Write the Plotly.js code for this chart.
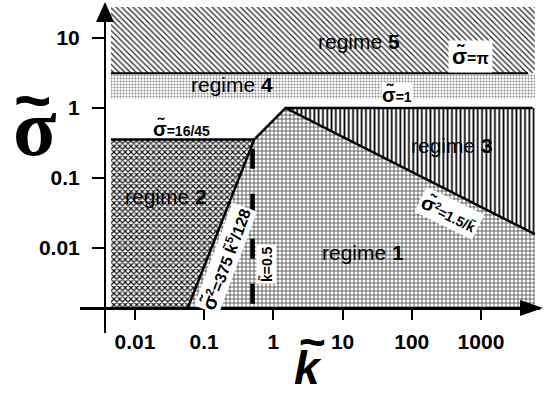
<!DOCTYPE html>
<html><head><meta charset="utf-8">
<script src="https://cdn.plot.ly/plotly-3.0.1.min.js"></script>
<style>html,body{margin:0;padding:0;background:#fff;}#chart{width:547px;height:394px;}</style>
</head><body><div id="chart"></div>
<script>
// ---- data ----
const kFill = [0.0045, 6000];            // horizontal extent of the shaded map
const sigmaFill = [0.0014, 27.7];        // vertical extent of the shaded map
const boundaryK = [0.058, 0.53, 1.5, 6000];      // regime 1 upper boundary (vertices)
const boundarySigma = [0.0014, 0.356, 1, 0.0158];
const sigmaPi = 3.1416;
const sigmaOne = 1;
const sigma1645 = 0.356;
const regime4Low = 1.35;
const kHalf = 0.5;
const kHalfSigma = [0.0016, 0.356];
const piLineEnd = 4800;
const oneLineEnd = 5600;
const xTickVals = [0.01, 0.1, 1, 10, 100, 1000];
const xTickText = ['0.01', '0.1', '1', '10', '100', '1000'];
const yTickVals = [0.01, 0.1, 1, 10];
const yTickText = ['0.01', '0.1', '1', '10'];

const kMin = kFill[0], kMax = kFill[1], sMin = sigmaFill[0], sMax = sigmaFill[1];

function region(xs, ys, shape, size, solidity, fg) {
  return {x: xs, y: ys, mode: 'lines', fill: 'toself', line: {width: 0, color: 'rgba(0,0,0,0)'},
    fillcolor: 'rgba(0,0,0,0)',
    fillpattern: {shape: shape, size: size, solidity: solidity, fgcolor: fg, bgcolor: 'white'},
    hoverinfo: 'skip', showlegend: false};
}
function line(xs, ys, w, dash) {
  return {x: xs, y: ys, mode: 'lines', line: {color: 'black', width: w, dash: dash || 'solid'},
    hoverinfo: 'skip', showlegend: false};
}

const traces = [
  region([kMin, kMax, kMax, kMin], [sigmaPi, sigmaPi, sMax, sMax], '\\', 4, 0.3, '#222'),           // regime 5
  region([kMin, kMax, kMax, kMin], [regime4Low, regime4Low, sigmaPi, sigmaPi], '.', 3, 0.35, '#888'), // regime 4
  region([boundaryK[2], kMax, kMax], [sigmaOne, sigmaOne, boundarySigma[3]], '|', 4.3, 0.4, '#000'), // regime 3
  region([kMin, kMin, boundaryK[1], boundaryK[0]], [sMin, sigma1645, sigma1645, boundarySigma[0]], 'x', 4, 0.5, '#111'), // regime 2
  region(boundaryK.concat([kMax]), boundarySigma.concat([sMin]), '+', 4, 0.28, '#111'),             // regime 1
  line([kMin, piLineEnd], [sigmaPi, sigmaPi], 2),
  line([boundaryK[2], oneLineEnd], [sigmaOne, sigmaOne], 2.5),
  line([kMin, boundaryK[1]], [sigma1645, sigma1645], 2.5),
  line(boundaryK, boundarySigma, 2.5),
  line([kHalf, kHalf], kHalfSigma, 4.5, '20px,25px')
];

const FONT = 'Liberation Sans, Arial, sans-serif';
function ann(x, y, text, size, extra) {
  return Object.assign({x: x, y: y, xref: 'x', yref: 'y', text: text, showarrow: false,
    xanchor: 'center', yanchor: 'middle',
    font: {family: FONT, size: size, color: 'black'}}, extra || {});
}
function pann(x, y, text, size, family, extra) {
  return Object.assign({x: x, y: y, xref: 'paper', yref: 'paper', text: text, showarrow: false,
    xanchor: 'center', yanchor: 'middle',
    font: {family: family, size: size, color: 'black'}}, extra || {});
}
const annotations = [
  ann(1.237, 0.943, 'regime <b>5</b>', 21),
  ann(-0.598, 0.329, 'regime <b>4</b>', 21),
  ann(2.581, -0.529, 'regime <b>3</b>', 21),
  ann(-1.552, -1.271, 'regime <b>2</b>', 21),
  ann(1.295, -2.057, 'regime <b>1</b>', 21),
  ann(2.855, 0.729, '<b><span style="font-size:22px">σ̃</span>=π</b>', 16, {bgcolor: 'white', borderpad: 3}),
  ann(1.786, 0.186, '<b><span style="font-size:20px">σ̃</span>=1</b>', 14, {bgcolor: 'white', borderpad: 0}),
  ann(-1.335, -0.286, '<b><span style="font-size:20px">σ̃</span>=16/45</b>', 14),
  ann(-0.69, -2.15, '<b><span style="font-size:20px">σ̃</span><sup>2</sup>=375 k̃<sup>5</sup>/128</b>', 16,
      {textangle: -69.5, bgcolor: 'white', borderpad: 1}),
  ann(-0.107, -2.229, '<b>k̃=0.5</b>', 14, {textangle: -90, bgcolor: 'white', borderpad: 1}),
  ann(2.552, -1.5, '<b><span style="font-size:20px">σ̃</span><sup>2</sup>=1.5/k̃</b>', 14,
      {textangle: 26, bgcolor: 'white', borderpad: 2}),
  // axis titles (glyph + tilde drawn as separate texts)
  pann(-0.0978, 0.625, '<b>σ</b>', 80, 'Liberation Serif, Times New Roman, serif'),
  pann(-0.1022, 0.710, '<b>~</b>', 64, FONT),
  pann(0.4957, -0.1067, '<b><i>k</i></b>', 46, FONT),
  pann(0.5065, -0.0274, '<b>~</b>', 46, FONT)
];

const shapes = [
  {type: 'path', xref: 'paper', yref: 'paper', line: {width: 0}, fillcolor: 'black',
   path: 'M ' + (96-80)/460 + ' ' + (333-22)/328 + ' L ' + (105-80)/460 + ' ' + (333-2)/328 + ' L ' + (114-80)/460 + ' ' + (333-22)/328 + ' Z'},
  {type: 'path', xref: 'paper', yref: 'paper', line: {width: 0}, fillcolor: 'black',
   path: 'M ' + (520-80)/460 + ' ' + (333-300)/328 + ' L ' + (543-80)/460 + ' ' + (333-308)/328 + ' L ' + (520-80)/460 + ' ' + (333-316)/328 + ' Z'}
];

const axisCommon = {type: 'log', showgrid: false, zeroline: false, showline: true, linecolor: 'black',
  linewidth: 2.5, ticks: 'outside', tickcolor: 'black', tickwidth: 2,
  tickfont: {family: FONT, size: 21, color: 'black', weight: 'bold'}, fixedrange: true};

const layout = {
  width: 547, height: 394, margin: {l: 80, r: 7, t: 5, b: 61},
  paper_bgcolor: 'white', plot_bgcolor: 'white', showlegend: false,
  xaxis: Object.assign({}, axisCommon, {range: [-2.795, 3.853], anchor: 'free', position: 0.0762,
    ticklen: 10, tickvals: xTickVals, ticktext: xTickText, ticklabelstandoff: 4}),
  yaxis: Object.assign({}, axisCommon, {range: [-3.214, 1.471], anchor: 'free', position: 0.0543,
    ticklen: 12, tickvals: yTickVals, ticktext: yTickText, ticklabelstandoff: 8}),
  annotations: annotations, shapes: shapes
};
Plotly.newPlot('chart', traces, layout, {displayModeBar: false, staticPlot: true});
</script></body></html>
